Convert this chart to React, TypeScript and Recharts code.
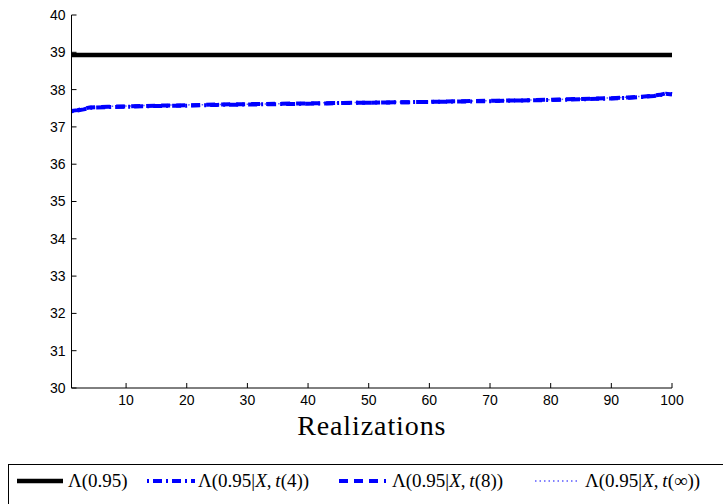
import React from 'react';
import { LineChart, Line, XAxis, YAxis } from 'recharts';

const realizations = [1, 2, 3, 4, 5, 7, 10, 15, 20, 25, 30, 35, 40, 45, 50, 55, 60, 65, 70, 75, 80, 85, 90, 93, 95, 97, 98, 99, 100];
const lambda095 = [38.93, 38.93, 38.93, 38.93, 38.93, 38.93, 38.93, 38.93, 38.93, 38.93, 38.93, 38.93, 38.93, 38.93, 38.93, 38.93, 38.93, 38.93, 38.93, 38.93, 38.93, 38.93, 38.93, 38.93, 38.93, 38.93, 38.93, 38.93, 38.93];
const lambdaT4 = [37.42, 37.44, 37.47, 37.51, 37.52, 37.53, 37.54, 37.56, 37.57, 37.59, 37.60, 37.61, 37.62, 37.64, 37.65, 37.66, 37.67, 37.68, 37.69, 37.71, 37.72, 37.74, 37.76, 37.78, 37.80, 37.83, 37.85, 37.89, 37.87];
const lambdaT8 = [37.43, 37.45, 37.49, 37.52, 37.53, 37.54, 37.55, 37.57, 37.58, 37.60, 37.61, 37.62, 37.63, 37.64, 37.65, 37.66, 37.67, 37.69, 37.70, 37.71, 37.73, 37.75, 37.77, 37.79, 37.81, 37.84, 37.86, 37.90, 37.88];
const lambdaTinf = [37.44, 37.46, 37.50, 37.52, 37.54, 37.55, 37.56, 37.58, 37.59, 37.60, 37.61, 37.62, 37.64, 37.65, 37.66, 37.67, 37.68, 37.69, 37.70, 37.72, 37.73, 37.75, 37.78, 37.80, 37.82, 37.85, 37.87, 37.91, 37.89];
const xTicks = [10, 20, 30, 40, 50, 60, 70, 80, 90, 100];
const yTicks = [30, 31, 32, 33, 34, 35, 36, 37, 38, 39, 40];

const data = realizations.map((r, i) => ({
  r,
  base: lambda095[i],
  t4: lambdaT4[i],
  t8: lambdaT8[i],
  tinf: lambdaTinf[i],
}));

const series = [
  { key: 'base', color: '#000000', width: 4.5, dash: undefined as string | undefined, label: ['Λ(0.95)'], sx: 17, sw: 46, tx: 68 },
  { key: 't4', color: '#0000ff', width: 4, dash: '2 4 9 4', label: ['Λ(0.95|', 'X', ',\u2009', 't', '(4))'], sx: 147, sw: 48, tx: 198 },
  { key: 't8', color: '#0000ff', width: 4, dash: '9 6', label: ['Λ(0.95|', 'X', ',\u2009', 't', '(8))'], sx: 339, sw: 47, tx: 392 },
  { key: 'tinf', color: '#5a5aff', width: 1.5, dash: '1.5 3', label: ['Λ(0.95|', 'X', ',\u2009', 't', '(∞))'], sx: 535, sw: 43, tx: 585 },
];

const serif = '"Liberation Serif", "DejaVu Serif", serif';
const sans = '"Liberation Sans", Arial, Helvetica, sans-serif';

export default function App() {
  return (
    <div style={{ position: 'absolute', left: 0, top: 0, width: 723, height: 504, overflow: 'hidden', background: '#fff', fontFamily: sans }}>
      <LineChart width={723} height={504} data={data} margin={{ top: 15, right: 51, left: 0, bottom: 56 }} style={{ fontFamily: sans }}>
        <XAxis
          dataKey="r"
          type="number"
          domain={[1, 100]}
          ticks={xTicks}
          tickSize={-5}
          tickMargin={12}
          height={60}
          stroke="#000"
          tick={{ fill: '#000', fontSize: 14, fontFamily: sans }}
          label={{ value: 'Realizations', position: 'insideBottom', offset: 13, style: { fontFamily: serif, fontSize: 28, letterSpacing: 0.9, fill: '#000' } }}
        />
        <YAxis
          type="number"
          domain={[30, 40]}
          ticks={yTicks}
          width={71.5}
          tickSize={-5}
          tickMargin={11}
          stroke="#000"
          tick={{ fill: '#000', fontSize: 14, fontFamily: sans }}
        />
        <Line dataKey="tinf" stroke="#5a5aff" strokeWidth={1.5} strokeDasharray="1.5 3" dot={false} isAnimationActive={false} />
        <Line dataKey="t8" stroke="#0000ff" strokeWidth={4} strokeDasharray="9 6" dot={false} isAnimationActive={false} />
        <Line dataKey="t4" stroke="#0000ff" strokeWidth={4} strokeDasharray="2 4 9 4" dot={false} isAnimationActive={false} />
        <Line dataKey="base" stroke="#000000" strokeWidth={4.5} dot={false} isAnimationActive={false} />
      </LineChart>
      <div
        style={{
          position: 'absolute',
          left: 8,
          top: 464,
          width: 740,
          height: 60,
          border: '1px solid #000',
          boxSizing: 'border-box',
          background: '#fff',
        }}
      >
        {series.map((s) => (
          <React.Fragment key={s.key}>
            <svg width={s.sw} height={16} style={{ position: 'absolute', left: s.sx - 9, top: 8 }}>
              <line x1={0} y1={8} x2={s.sw} y2={8} stroke={s.color} strokeWidth={s.width} strokeDasharray={s.dash} />
            </svg>
            <span
              style={{
                position: 'absolute',
                left: s.tx - 9,
                top: 3,
                fontFamily: serif,
                fontSize: 19,
                color: '#000',
                lineHeight: '26px',
                whiteSpace: 'nowrap',
              }}
            >
              {s.label.map((p, j) => (
                <span key={j} style={{ fontStyle: p === 'X' || p === 't' ? 'italic' : 'normal' }}>{p}</span>
              ))}
            </span>
          </React.Fragment>
        ))}
      </div>
    </div>
  );
}
